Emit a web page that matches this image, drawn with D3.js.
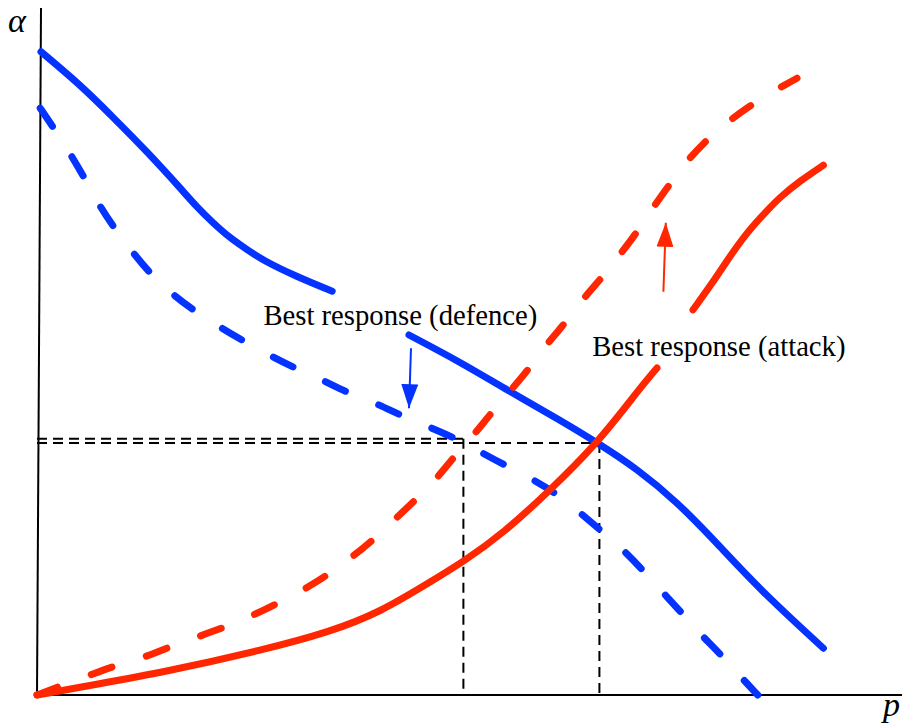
<!DOCTYPE html>
<html>
<head>
<meta charset="utf-8">
<script src="https://cdn.jsdelivr.net/npm/d3@7"></script>
<style>
  html, body { margin: 0; padding: 0; background: #fff; }
  svg { display: block; }
</style>
</head>
<body>
<div id="chart"></div>
<script>
// ---------- data (p, alpha) in arbitrary units ----------
const defenceSolidA = [
  [0.005,1.072],[0.054,1.017],[0.095,0.963],[0.138,0.905],[0.179,0.845],[0.200,0.813],
  [0.220,0.787],[0.241,0.762],[0.263,0.742],[0.283,0.724],[0.325,0.697],[0.369,0.673]
];
const defenceSolidB = [
  [0.465,0.600],[0.529,0.555],[0.588,0.508],[0.654,0.458],[0.701,0.420],[0.750,0.377],
  [0.800,0.322],[0.850,0.253],[0.904,0.175],[0.983,0.078]
];
const defenceDashed = [
  [0.004,0.978],[0.025,0.937],[0.044,0.897],[0.063,0.853],[0.079,0.813],[0.100,0.772],
  [0.120,0.737],[0.145,0.697],[0.170,0.667],[0.200,0.637],[0.241,0.603],[0.289,0.567],
  [0.325,0.543],[0.354,0.527],[0.389,0.503],[0.423,0.487],[0.456,0.465],[0.488,0.448],
  [0.523,0.428],[0.550,0.408],[0.585,0.383],[0.616,0.362],[0.648,0.337],[0.675,0.308],
  [0.704,0.275],[0.729,0.247],[0.756,0.210],[0.778,0.177],[0.804,0.140],[0.825,0.107],
  [0.853,0.070],[0.875,0.037],[0.901,0.000]
];
const attackSolidA = [
  [0.000,0.000],[0.075,0.018],[0.158,0.038],[0.283,0.075],[0.366,0.105],[0.429,0.138],
  [0.491,0.188],[0.533,0.222],[0.583,0.270],[0.638,0.337],[0.701,0.420],[0.754,0.512],
  [0.775,0.545]
];
const attackSolidB = [
  [0.820,0.642],[0.845,0.688],[0.863,0.725],[0.888,0.772],[0.913,0.808],[0.929,0.830],
  [0.954,0.857],[0.983,0.883]
];
const attackDashed = [
  [0.000,0.000],[0.035,0.018],[0.066,0.033],[0.100,0.050],[0.135,0.063],[0.169,0.082],
  [0.201,0.097],[0.235,0.113],[0.269,0.132],[0.301,0.153],[0.333,0.175],[0.363,0.200],
  [0.391,0.227],[0.420,0.258],[0.445,0.290],[0.473,0.325],[0.498,0.358],[0.520,0.395],
  [0.544,0.430],[0.566,0.467],[0.589,0.503],[0.613,0.540],[0.633,0.578],[0.656,0.613],
  [0.681,0.658],[0.704,0.692],[0.725,0.728],[0.748,0.767],[0.766,0.805],[0.785,0.840],
  [0.810,0.887],[0.835,0.922],[0.858,0.950],[0.889,0.980],[0.916,1.003],[0.950,1.028]
];
// equilibria (intersections) marked by black dashed guides
const equilibria = [
  { p: 0.533, a: 0.427 },  // dashed curves
  { p: 0.703, a: 0.420 }   // solid curves
];
// annotation arrows: from -> to
const arrows = [
  { from: [0.4675, 0.578], to: [0.465, 0.478], kind: "defence" },
  { from: [0.783, 0.672],  to: [0.786, 0.787], kind: "attack" }
];
const labels = [
  { text: "Best response (defence)", p: 0.283, a: 0.617 },
  { text: "Best response (attack)",  p: 0.694, a: 0.565 }
];
const axisLabels = { y: "α", x: "p" };

// ---------- drawing ----------
const W = 902, H = 725;
const BLUE = "#0433FF", RED = "#FF2600";

const x = d3.scaleLinear().domain([0, 1]).range([37, 837]);
const y = d3.scaleLinear().domain([0, 1]).range([695, 95]);

const svg = d3.select("#chart").append("svg")
  .attr("width", W).attr("height", H)
  .attr("viewBox", `0 0 ${W} ${H}`);

const defs = svg.append("defs");
[["head-defence", BLUE], ["head-attack", RED]].forEach(([id, c]) => {
  defs.append("marker")
    .attr("id", id)
    .attr("viewBox", "0 0 24 17")
    .attr("refX", 24).attr("refY", 8.5)
    .attr("markerWidth", 24).attr("markerHeight", 17)
    .attr("markerUnits", "userSpaceOnUse")
    .attr("orient", "auto")
    .append("path")
    .attr("d", "M0,0 L24,8.5 L0,17 Z")
    .attr("fill", c);
});

// axes
const yTop = y.invert(8);
const xRight = x.invert(W);
svg.append("path")
  .attr("d", d3.line()([[x(0.005), y(yTop)], [x(0), y(0)]]))
  .attr("stroke", "#000").attr("stroke-width", 2).attr("fill", "none");
svg.append("path")
  .attr("d", d3.line()([[x(0), y(0)], [x(xRight), y(0)]]))
  .attr("stroke", "#000").attr("stroke-width", 2).attr("fill", "none");

// guides
const g = svg.append("g")
  .attr("stroke", "#000").attr("stroke-width", 2)
  .attr("stroke-dasharray", "10,6").attr("fill", "none");
equilibria.forEach(e => {
  g.append("path").attr("d", d3.line()([[x(0), y(e.a)], [x(e.p), y(e.a)]]));
  g.append("path").attr("d", d3.line()([[x(e.p), y(e.a)], [x(e.p), y(0)]]));
});

// curves
const line = d3.line().x(d => x(d[0])).y(d => y(d[1])).curve(d3.curveBasis);
const curves = [
  { data: defenceSolidA, color: BLUE, dashed: false },
  { data: defenceSolidB, color: BLUE, dashed: false },
  { data: defenceDashed, color: BLUE, dashed: true },
  { data: attackSolidA,  color: RED,  dashed: false },
  { data: attackSolidB,  color: RED,  dashed: false },
  { data: attackDashed,  color: RED,  dashed: true }
];
curves.forEach(c => {
  svg.append("path")
    .datum(c.data)
    .attr("d", line)
    .attr("fill", "none")
    .attr("stroke", c.color)
    .attr("stroke-width", 7)
    .attr("stroke-linecap", "round")
    .attr("stroke-linejoin", "round")
    .attr("stroke-dasharray", c.dashed ? "22,36" : null);
});

// arrows
arrows.forEach(a => {
  svg.append("path")
    .attr("d", d3.line()([[x(a.from[0]), y(a.from[1])], [x(a.to[0]), y(a.to[1])]]))
    .attr("stroke", a.kind === "defence" ? BLUE : RED)
    .attr("stroke-width", 2)
    .attr("fill", "none")
    .attr("marker-end", `url(#head-${a.kind})`);
});

// labels
svg.selectAll("text.lab").data(labels).enter().append("text")
  .attr("class", "lab")
  .attr("x", d => x(d.p)).attr("y", d => y(d.a))
  .attr("font-family", "'Liberation Serif', 'Times New Roman', serif")
  .attr("font-size", 28.7)
  .attr("fill", "#000")
  .text(d => d.text);

svg.append("text")
  .attr("x", 8).attr("y", 32)
  .attr("font-family", "'Liberation Serif', 'Times New Roman', serif")
  .attr("font-style", "italic")
  .attr("font-size", 34)
  .text(axisLabels.y);
svg.append("text")
  .attr("x", 883).attr("y", 716)
  .attr("font-family", "'Liberation Serif', 'Times New Roman', serif")
  .attr("font-style", "italic")
  .attr("font-size", 34)
  .text(axisLabels.x);
</script>
</body>
</html>
